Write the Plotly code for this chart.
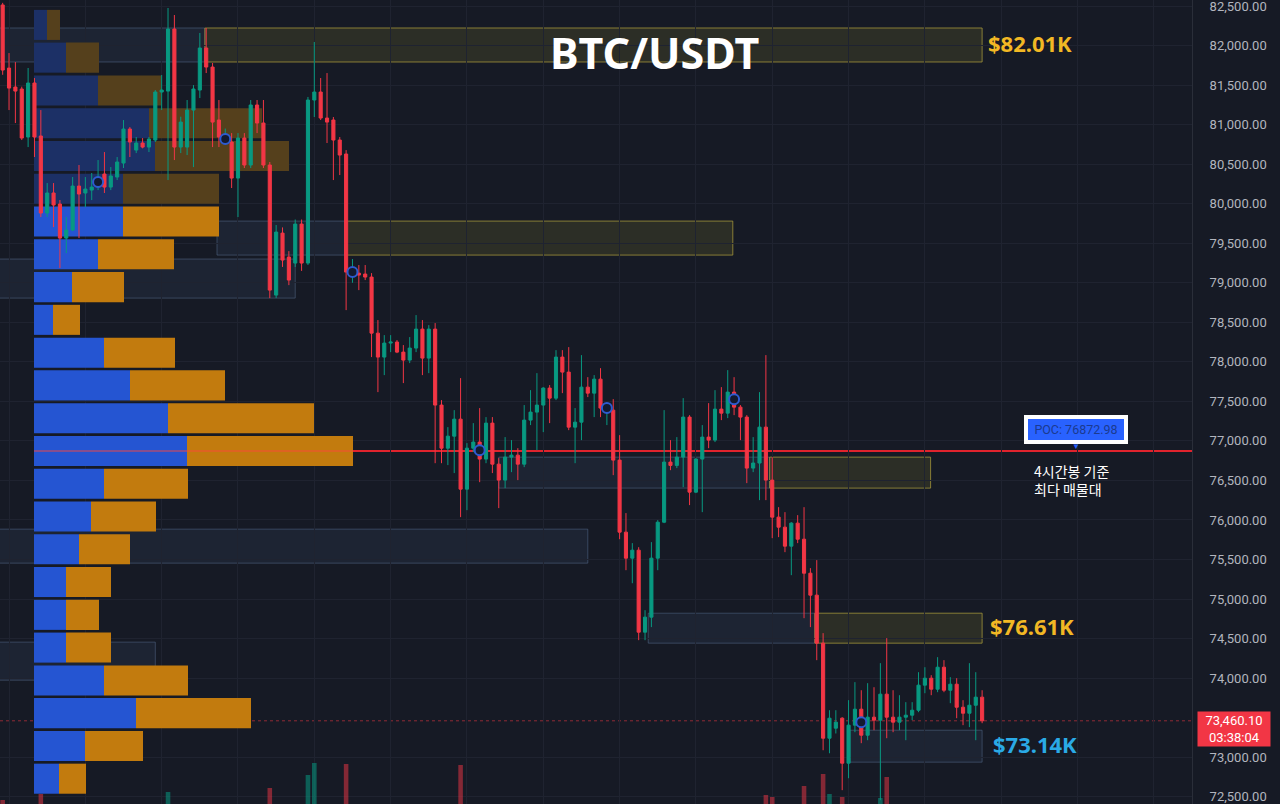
import plotly.graph_objects as go

# ---------------- data ----------------
# 4h candles (index 0 = leftmost visible candle)
opens = [82513, 81715, 81475, 81450, 80843, 81526, 80856, 79882, 80135, 79996,
         79565, 79666, 80223, 80135, 80172, 80210, 80375, 80210, 80337, 80514,
         80944, 80678, 80767, 80716, 80805, 81412, 81424, 82209, 80716, 80716,
         81184, 81437, 81969, 81728, 81058, 80843, 80780, 80324, 80830, 80489,
         81248, 81020, 80489, 78844, 79628, 79325, 79249, 79742, 79249, 81311,
         81412, 81083, 81058, 80805, 80628, 79135, 79122, 79110, 79072, 78363,
         78060, 78237, 78250, 78123, 78022, 78174, 78414, 78047, 78414, 77453,
         76908, 77060, 77275, 76390, 76908, 76985, 76770, 77225, 76706, 76504,
         76795, 76820, 76706, 77263, 77364, 77453, 77668, 77541, 78060, 77870,
         77174, 77237, 77680, 77604, 77781, 77415, 77389, 76757, 75846, 75517,
         75618, 74581, 74771, 75517, 75972, 76732, 76690, 76795, 77301, 76352,
         76770, 77048, 77010, 77402, 77351, 77617, 77427, 77301, 76656, 76720,
         77174, 76504, 76036, 75909, 75669, 75960, 75757, 75327, 75049, 74442,
         73240, 73367, 73493, 72924, 73405, 73607, 73278, 73506, 73468, 73797,
         73506, 73443, 73506, 73531, 73594, 73911, 73999, 73860, 74138, 73847,
         73923, 73632, 73556, 73657, 73759]
highs = [82540, 81905, 81791, 81480, 81716, 81589, 81184, 80261, 80261, 80046,
         79831, 80337, 80489, 80337, 80388, 80552, 80653, 80463, 80590, 81058,
         80969, 80843, 80830, 80843, 81437, 81627, 82475, 82386, 81100, 81311,
         81500, 82159, 82222, 81779, 81311, 80950, 80893, 80893, 80893, 81311,
         81311, 81311, 80527, 79730, 79700, 79400, 79800, 79800, 81350, 82045,
         81589, 81652, 81096, 80843, 80678, 79300, 79224, 79224, 79122, 78528,
         78338, 78338, 78275, 78212, 78313, 78591, 78528, 78464, 78490, 77516,
         77174, 77389, 77794, 76972, 77225, 77415, 77301, 77301, 76782, 77048,
         77010, 76908, 77453, 77642, 77857, 77680, 77706, 78148, 78148, 78186,
         77415, 78085, 77806, 77832, 77920, 77480, 77528, 77073, 76087, 75707,
         75656, 74859, 75720, 75998, 77389, 77010, 77048, 77541, 77326, 76782,
         77200, 77478, 77642, 77680, 77895, 77806, 77453, 77326, 77048, 77617,
         78085, 76795, 76162, 76099, 75972, 76061, 76162, 75391, 75492, 74569,
         73594, 73594, 73506, 73721, 73949, 73847, 73936, 73885, 74189, 74506,
         73847, 73784, 73696, 73696, 74075, 74138, 74037, 74265, 74227, 74012,
         73999, 73721, 74189, 74075, 73847]
lows = [81630, 81184, 81020, 80805, 80716, 80590, 79831, 79831, 79704, 79186,
        79375, 79654, 79565, 79957, 80046, 80172, 80135, 80172, 80299, 80451,
        80590, 80640, 80700, 80653, 80780, 81184, 80299, 80552, 80640, 80615,
        80463, 81336, 81652, 80716, 80716, 80780, 80198, 79831, 80451, 80451,
        80893, 80451, 78806, 78806, 79200, 78970, 79200, 79150, 79225, 81096,
        81058, 80767, 80299, 80362, 78654, 79000, 78907, 79034, 78060, 77617,
        77832, 78123, 78110, 77731, 77984, 78123, 77832, 77857, 76718, 76718,
        76694, 76593, 76036, 76124, 76858, 76478, 76718, 76593, 76150, 76403,
        76605, 76504, 76668, 77200, 76883, 77111, 77225, 77516, 77604, 77136,
        76718, 77010, 77554, 77301, 77301, 77200, 76567, 75757, 75365, 75200,
        74480, 74480, 74645, 75365, 75960, 76630, 76656, 76415, 76188, 76340,
        76099, 76908, 76985, 77263, 77288, 77326, 77010, 76466, 76605, 76251,
        76251, 75770, 75783, 75593, 75302, 75707, 74758, 74645, 74227, 73088,
        73050, 73300, 72583, 72734, 73316, 73177, 73215, 73341, 72456, 73240,
        73316, 73341, 73215, 73468, 73569, 73809, 73784, 73822, 73822, 73683,
        73493, 73405, 73380, 73215, 73430]
closes = [81690, 81462, 81424, 80830, 81526, 80843, 79882, 80135, 79983, 79565,
          79666, 80223, 80122, 80185, 80210, 80337, 80210, 80350, 80527, 80944,
          80780, 80767, 80716, 80817, 81412, 81437, 82209, 80716, 81032, 81184,
          81450, 81969, 81728, 81032, 80843, 80880, 80324, 80830, 80489, 81248,
          81020, 80489, 78907, 79641, 79287, 79034, 79742, 79249, 81311, 81412,
          81083, 81032, 80805, 80615, 79135, 79160, 79097, 79072, 78363, 78060,
          78237, 78250, 78123, 78022, 78174, 78414, 78047, 78414, 77453, 76908,
          77060, 77275, 76390, 76908, 76985, 76770, 77225, 76706, 76504, 76795,
          76820, 76706, 77263, 77364, 77453, 77668, 77541, 78060, 77870, 77174,
          77237, 77680, 77604, 77781, 77415, 77440, 76757, 75846, 75517, 75618,
          74581, 74771, 75517, 75972, 76732, 76690, 76795, 77301, 76352, 76770,
          77048, 77010, 77402, 77351, 77617, 77427, 77301, 76656, 76720, 77174,
          76504, 76036, 75909, 75669, 75960, 75757, 75327, 75049, 74442, 73240,
          73493, 73443, 72924, 73405, 73607, 73278, 73506, 73468, 73797, 73506,
          73443, 73506, 73531, 73594, 73911, 73999, 73860, 74138, 73847, 73923,
          73632, 73556, 73657, 73759, 73460.10]
candle_idx = list(range(len(opens)))

# volume (only the tallest bars reach into the visible area)
volumes = [44, 24, 24, 24, 24, 24, 50, 24, 24, 24,
           24, 24, 24, 24, 24, 24, 24, 24, 24, 24,
           24, 24, 24, 24, 24, 24, 52, 24, 24, 24,
           24, 24, 24, 24, 24, 24, 24, 24, 24, 24,
           24, 24, 56, 24, 24, 24, 24, 24, 69, 81,
           24, 24, 24, 24, 80, 24, 24, 24, 24, 24,
           24, 24, 24, 24, 24, 24, 24, 24, 24, 24,
           24, 24, 79, 24, 24, 24, 24, 24, 24, 24,
           24, 24, 24, 24, 24, 24, 24, 24, 24, 24,
           24, 24, 24, 24, 24, 24, 24, 24, 24, 24,
           24, 24, 24, 24, 24, 24, 24, 24, 24, 24,
           24, 24, 24, 24, 24, 24, 24, 24, 24, 24,
           49, 47, 24, 24, 24, 24, 58, 24, 24, 70,
           50, 24, 47, 24, 24, 24, 24, 24, 46, 67,
           24, 24, 24, 24, 24, 24, 24, 24, 24, 24,
           24, 24, 24, 24, 24]

# circle markers
marker_idx = [15, 35, 55, 75, 95, 115, 135]
marker_price = [80274, 80818, 79135, 76883, 77415, 77528, 73443]

# volume profile (price bin centres, buy / sell volume)
profile_price = [82261, 81847, 81432, 81018, 80603, 80189, 79774, 79360, 78945, 78531,
                 78116, 77702, 77287, 76873, 76458, 76044, 75629, 75215, 74800, 74386,
                 73971, 73557, 73142, 72728]
profile_buy = [13, 32, 64, 115, 121, 89, 89, 64, 38, 19,
               70, 96, 134, 153, 70, 57, 45, 32, 32, 32,
               70, 102, 51, 25]
profile_sell = [13, 33, 63, 113, 134, 96, 96, 76, 52, 27,
                71, 95, 146, 166, 84, 65, 51, 45, 33, 45,
                84, 115, 58, 27]
profile_in_value_area = [False, False, False, False, False, False, True, True, True, True,
                         True, True, True, True, True, True, True, True, True, True,
                         True, True, True, True]

poc_price = 76872.98
last_price = 73460.10
last_timer = "03:38:04"

# price axis labels (73,500 sits under the live price tag)
ytick_vals = [72500, 73000, 74000, 74500, 75000, 75500, 76000, 76500, 77000, 77500,
              78000, 78500, 79000, 79500, 80000, 80500, 81000, 81500, 82000, 82500]

# supply / demand zones
zone_start = [-1, 31.8, 33.7, 53.8, -1, 78.0, 120.6, -1, 101.5, 127.7, -1, 133.2]
zone_end = [31.8, 154.0, 53.8, 114.8, 46.0, 120.6, 145.9, 92.0, 127.7, 154.0, 24.0, 154.0]
zone_lo = [81792, 81792, 79350, 79350, 78806, 76403, 76403, 75454, 74442, 74442, 73974, 72937]
zone_hi = [82222, 82222, 79780, 79780, 79300, 76795, 76795, 75884, 74821, 74821, 74455, 73341]
zone_kind = ["blue", "gold", "blue", "gold", "blue", "blue", "gold", "blue", "blue", "gold", "blue", "blue"]

level_text = ["$82.01K", "$76.61K", "$73.14K"]
level_zone = [1, 9, 11]
level_color = ["#f2b824", "#f2b824", "#2aaae6"]
level_shift = [4, 6, 9]

title_text = "BTC/USDT"
note_text = "4시간봉 기준<br>최다 매물대"

# ---------------- style ----------------
BG = "#161a25"
GRID = "#1f2330"
UP = "#089981"
DOWN = "#f23645"
BLUE = "#2555d2"
BLUE_DIM = "#1c3066"
ORANGE = "#c27b0e"
ORANGE_DIM = "#55401c"

fig = go.Figure()

# volume profile (base x axis)
fig.add_trace(go.Bar(
    y=profile_price, x=profile_buy, base=[0] * len(profile_buy), orientation="h",
    xaxis="x", yaxis="y", width=380,
    marker=dict(color=[BLUE if v else BLUE_DIM for v in profile_in_value_area], line=dict(width=0)),
    hoverinfo="skip"))
fig.add_trace(go.Bar(
    y=profile_price, x=profile_sell, base=profile_buy, orientation="h",
    xaxis="x", yaxis="y", width=380,
    marker=dict(color=[ORANGE if v else ORANGE_DIM for v in profile_in_value_area], line=dict(width=0)),
    hoverinfo="skip"))

# volume histogram
fig.add_trace(go.Bar(
    x=candle_idx, y=volumes, xaxis="x2", yaxis="y3", width=0.72,
    marker=dict(color=["rgba(8,153,129,0.55)" if c >= o else "rgba(242,54,69,0.5)"
                       for o, c in zip(opens, closes)], line=dict(width=0)),
    hoverinfo="skip"))

# candles
fig.add_trace(go.Candlestick(
    x=candle_idx, open=opens, high=highs, low=lows, close=closes,
    xaxis="x2", yaxis="y", whiskerwidth=0,
    increasing=dict(line=dict(color=UP, width=1), fillcolor=UP),
    decreasing=dict(line=dict(color=DOWN, width=1), fillcolor=DOWN),
    hoverinfo="skip"))

# markers
fig.add_trace(go.Scatter(
    x=marker_idx, y=marker_price, mode="markers", xaxis="x2", yaxis="y",
    marker=dict(symbol="circle", size=10, color="#131a30", line=dict(color="#2d5bd0", width=2)),
    hoverinfo="skip"))

shapes = []
for x0, x1, lo, hi, kind in zip(zone_start, zone_end, zone_lo, zone_hi, zone_kind):
    if kind == "gold":
        fill, line = "rgba(125,118,45,0.22)", "rgba(170,155,60,0.75)"
    else:
        fill, line = "rgba(80,110,150,0.13)", "rgba(95,120,155,0.45)"
    shapes.append(dict(type="rect", xref="x2", yref="y", x0=x0, x1=x1, y0=lo, y1=hi,
                       fillcolor=fill, line=dict(color=line, width=1), layer="below"))
# POC line
shapes.append(dict(type="line", xref="x", yref="y", x0=0, x1=1200, y0=poc_price, y1=poc_price,
                   line=dict(color="#e0232d", width=2), layer="below"))
poc_row = profile_price.index(round(poc_price))
shapes.append(dict(type="line", xref="x", yref="y", x0=0,
                   x1=profile_buy[poc_row] + profile_sell[poc_row],
                   y0=poc_price, y1=poc_price,
                   line=dict(color="rgba(255,70,60,0.45)", width=2), layer="above"))
# last price line
shapes.append(dict(type="line", xref="paper", yref="y", x0=0, x1=1, y0=last_price, y1=last_price,
                   line=dict(color="rgba(242,54,69,0.55)", width=1, dash="dot"), layer="below"))

annotations = [
    dict(text=f"<b>{title_text}</b>", xref="paper", yref="paper", x=0.549, y=0.935,
         showarrow=False, font=dict(family="Noto Sans", size=43, color="white"),
         xanchor="center", yanchor="middle"),
]
for txt, zi, col, sh in zip(level_text, level_zone, level_color, level_shift):
    annotations.append(dict(text=f"<b>{txt}</b>", xref="x2", yref="y", x=zone_end[zi],
                            y=(zone_lo[zi] + zone_hi[zi]) / 2, xanchor="left", yanchor="middle",
                            xshift=sh, yshift=2, showarrow=False,
                            font=dict(family="Noto Sans", size=22, color=col)))
annotations.append(dict(text=f"POC: {poc_price:.2f}", xref="paper", yref="y", x=0.9027, y=poc_price,
                        xanchor="center", yanchor="bottom", yshift=7, showarrow=False,
                        font=dict(family="Roboto", size=12.5, color="#1b3a8f"),
                        bgcolor="#2962ff", bordercolor="white", borderwidth=4, borderpad=3,
                        width=90))
annotations.append(dict(text="▼", xref="paper", yref="y", x=0.9027, y=poc_price,
                        xanchor="center", yanchor="bottom", yshift=-2, showarrow=False,
                        font=dict(size=8, color="#2962ff")))
annotations.append(dict(text=note_text, xref="paper", yref="y", x=0.8658, y=poc_price,
                        xanchor="left", yanchor="top", yshift=-8, align="left", showarrow=False,
                        font=dict(family="Noto Sans CJK KR", size=14, color="white")))
annotations.append(dict(text=f"{last_price:,.2f}<br>{last_timer}", xref="paper", yref="y",
                        x=1.0042, y=last_price, xanchor="left", yanchor="middle", yshift=-8,
                        align="center", showarrow=False, bgcolor=DOWN, borderpad=1, width=70,
                        font=dict(family="Roboto", size=13, color="white")))

fig.update_layout(
    width=1280, height=804,
    margin=dict(l=0, r=88, t=0, b=0),
    paper_bgcolor=BG, plot_bgcolor=BG,
    showlegend=False, barmode="overlay", boxgap=0.3, hovermode=False,
    xaxis=dict(range=[-34, 1158], visible=False, fixedrange=True),
    xaxis2=dict(overlaying="x", range=[-0.42, 187.0], showticklabels=False, ticks="",
                showgrid=True, gridcolor=GRID, gridwidth=1, tick0=1, dtick=12,
                zeroline=False, rangeslider=dict(visible=False)),
    yaxis=dict(side="right", range=[72408, 82576], tickmode="array", tickvals=ytick_vals,
               tickformat=",.2f", ticklabeloverflow="allow",
               showgrid=True, gridcolor=GRID, gridwidth=1, zeroline=False, ticks="",
               ticklabelstandoff=14, showline=True, linecolor="#2a2e39", linewidth=1,
               tickfont=dict(family="Roboto", size=13, color="#b2b5be")),
    yaxis3=dict(overlaying="y", range=[40, 844], visible=False),
    shapes=shapes, annotations=annotations,
)

fig.write_html("out.html", config={"displayModeBar": False})
